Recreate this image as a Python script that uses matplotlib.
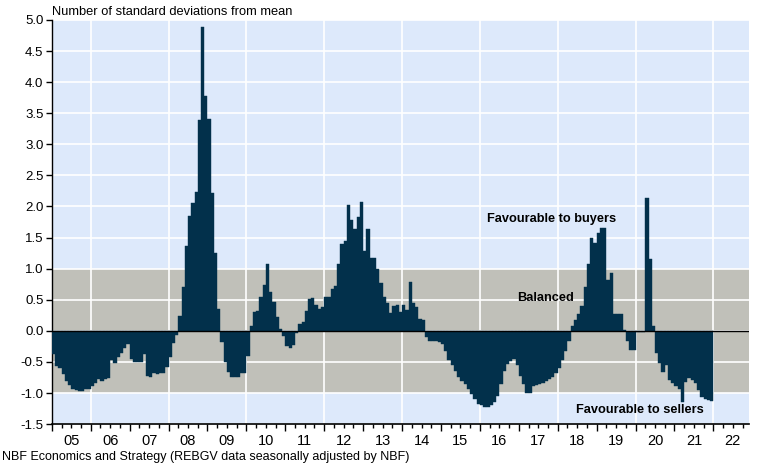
import numpy as np
import matplotlib
matplotlib.use('Agg')
import matplotlib.pyplot as plt
from matplotlib.ticker import FixedLocator, NullFormatter

plt.rcParams['font.family'] = ['Liberation Sans', 'DejaVu Sans']

# monthly values (std deviations from mean), Jan 2005 - Dec 2021
v2005 = [-0.38, -0.56, -0.60, -0.70, -0.80, -0.87, -0.93, -0.95, -0.96, -0.96, -0.94, -0.93]
v2006 = [-0.89, -0.84, -0.78, -0.80, -0.78, -0.76, -0.47, -0.52, -0.42, -0.36, -0.28, -0.21]
v2007 = [-0.45, -0.50, -0.50, -0.50, -0.38, -0.72, -0.75, -0.68, -0.69, -0.68, -0.68, -0.58]
v2008 = [-0.42, -0.20, -0.06, 0.24, 0.71, 1.36, 1.85, 2.06, 2.23, 3.39, 4.89, 3.77]
v2009 = [3.40, 2.22, 1.25, 0.35, -0.18, -0.50, -0.66, -0.74, -0.75, -0.75, -0.68, -0.68]
v2010 = [-0.40, 0.07, 0.31, 0.32, 0.54, 0.74, 1.08, 0.63, 0.47, 0.23, 0.03, -0.09]
v2011 = [-0.25, -0.28, -0.23, -0.04, 0.11, 0.15, 0.32, 0.51, 0.53, 0.42, 0.35, 0.38]
v2012 = [0.54, 0.55, 0.67, 0.72, 1.08, 1.40, 1.44, 2.02, 1.79, 1.63, 1.83, 2.07]
v2013 = [1.28, 1.63, 1.17, 1.17, 1.00, 0.77, 0.55, 0.44, 0.28, 0.40, 0.42, 0.30]
v2014 = [0.41, 0.34, 0.79, 0.45, 0.38, 0.19, 0.18, -0.10, -0.17, -0.16, -0.16, -0.18]
v2015 = [-0.21, -0.33, -0.47, -0.55, -0.64, -0.74, -0.80, -0.86, -0.93, -1.02, -1.10, -1.17]
v2016 = [-1.20, -1.22, -1.22, -1.19, -1.15, -1.05, -0.85, -0.65, -0.53, -0.49, -0.46, -0.55]
v2017 = [-0.73, -0.86, -1.00, -1.00, -0.88, -0.87, -0.86, -0.84, -0.80, -0.77, -0.74, -0.68]
v2018 = [-0.60, -0.47, -0.32, -0.17, 0.08, 0.18, 0.27, 0.40, 0.70, 1.08, 1.49, 1.42]
v2019 = [1.57, 1.65, 1.65, 0.82, 0.93, 0.27, 0.27, 0.27, 0.01, -0.17, -0.31, -0.31]
v2020 = [-0.02, -0.02, -0.02, 2.14, 1.16, 0.08, -0.36, -0.51, -0.67, -0.55, -0.79, -0.84]
v2021 = [-0.88, -0.94, -1.14, -0.82, -0.76, -0.79, -0.84, -0.95, -1.06, -1.10, -1.12, -1.13]

start_year = 2005
year_labels = ['05', '06', '07', '08', '09', '10', '11', '12', '13', '14', '15',
               '16', '17', '18', '19', '20', '21', '22']

values = np.array(v2005 + v2006 + v2007 + v2008 + v2009 + v2010 + v2011 + v2012 + v2013
                  + v2014 + v2015 + v2016 + v2017 + v2018 + v2019 + v2020 + v2021)
t = start_year + np.arange(len(values)) / 12

bg = '#dde9fb'
band = '#c0c0b9'
navy = '#02304b'

fig = plt.figure(figsize=(7.62, 4.63), dpi=100)
ax = fig.add_axes([0.068, 0.084, 0.915, 0.873])
ax.set_facecolor(bg)

ax.axhspan(-1, 1, color=band, zorder=0.5, lw=0)
ax.bar(t, values, width=1/12, align='edge', color=navy, edgecolor=navy, lw=0.3, zorder=3)
ax.axhline(0, color='black', lw=1, zorder=4)

ax.set_xlim(start_year, 2022 + 11/12)
ax.set_ylim(-1.5, 5.0)

# y axis
yt = np.arange(-1.5, 5.01, 0.5)
ax.set_yticks(yt)
ax.set_yticklabels(['%.1f' % y for y in yt], fontsize=9.5)
ax.grid(axis='y', color='white', lw=1.2, zorder=1)

# x axis: quarterly ticks, year labels mid-year, gridlines every 2 years
years = np.arange(start_year, 2023)
ax.xaxis.set_major_locator(FixedLocator(years))
ax.xaxis.set_major_formatter(NullFormatter())
ax.xaxis.set_minor_locator(FixedLocator(np.arange(start_year, 2023, 0.25)))
ax.tick_params(axis='x', which='major', length=5, width=1)
ax.tick_params(axis='x', which='minor', length=3, width=1)
ax.tick_params(axis='y', length=4, width=1, pad=2)
for y, lab in zip(years, year_labels):
    ax.text(y + 0.5, -1.66, lab, ha='center', va='top', fontsize=10.5)
for y in range(2006, 2023, 2):
    ax.axvline(y, color='white', lw=1.2, zorder=1)

for s in ['top', 'right']:
    ax.spines[s].set_visible(False)
ax.spines['left'].set_linewidth(1)
ax.spines['bottom'].set_linewidth(1.2)

ax.text(2017.85, 1.80, 'Favourable to buyers', ha='center', va='center', fontsize=9.2, fontweight='bold')
ax.text(2017.7, 0.53, 'Balanced', ha='center', va='center', fontsize=9.2, fontweight='bold')
ax.text(2020.1, -1.27, 'Favourable to sellers', ha='center', va='center', fontsize=9.2, fontweight='bold')

fig.text(0.068, 0.975, 'Number of standard deviations from mean', fontsize=9.3, va='center')
fig.text(0.002, 0.013, 'NBF Economics and Strategy (REBGV data seasonally adjusted by NBF)',
         fontsize=9, va='center')

fig.savefig('out.png', dpi=100)
